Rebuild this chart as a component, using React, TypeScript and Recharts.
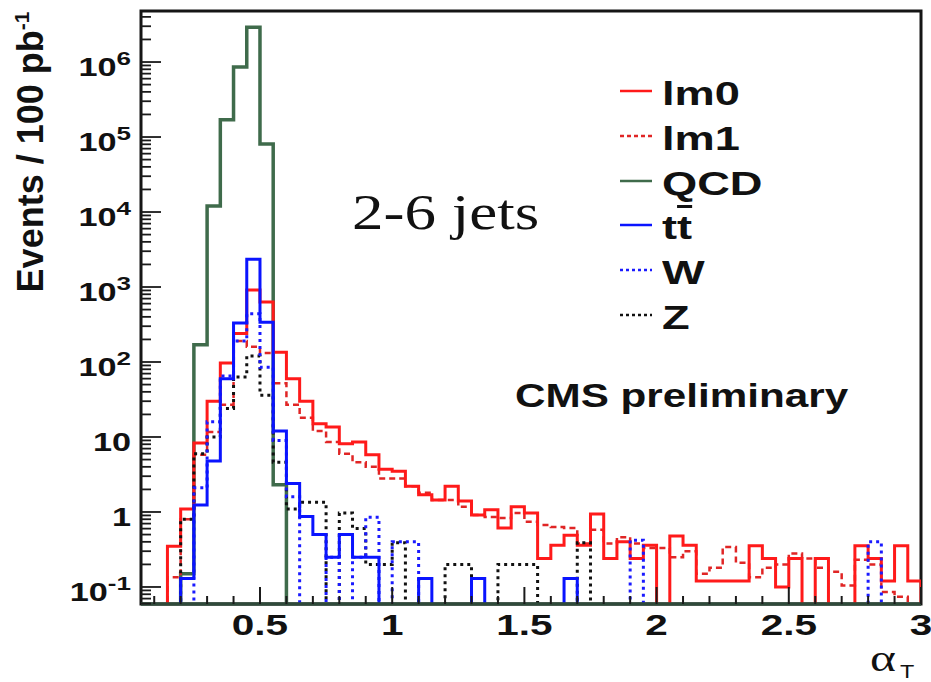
import React from "react";
import { ComposedChart, Line, XAxis, YAxis, Legend, ReferenceArea, ReferenceLine, Customized } from "recharts";

const FONT = "'Liberation Sans', Arial, Helvetica, sans-serif";
const SERIF = "'Liberation Serif', 'Times New Roman', serif";

// axis ranges
const X_MIN = 0.05;
const X_MAX = 3.0;
const Y_MIN = 0.0593;
const Y_MAX = 4.79e6;
const BIN_WIDTH = 0.05;
const FLOOR = 1e-4; // empty bins are drawn down past the bottom of the frame

// lower edge of each alpha_T bin
const binLow = [
  0.15, 0.2, 0.25, 0.3, 0.35, 0.4, 0.45, 0.5, 0.55, 0.6,
  0.65, 0.7, 0.75, 0.8, 0.85, 0.9, 0.95, 1.0, 1.05, 1.1,
  1.15, 1.2, 1.25, 1.3, 1.35, 1.4, 1.45, 1.5, 1.55, 1.6,
  1.65, 1.7, 1.75, 1.8, 1.85, 1.9, 1.95, 2.0, 2.05, 2.1,
  2.15, 2.2, 2.25, 2.3, 2.35, 2.4, 2.45, 2.5, 2.55, 2.6,
  2.65, 2.7, 2.75, 2.8, 2.85, 2.9, 2.95,
];

const lm0 = [
  0.35, 1.1, 8.3, 30, 97, 240, 910, 630, 135, 60,
  30, 15, 13.6, 8.1, 8.6, 5.8, 3.7, 3.5, 2.2, 1.7,
  1.45, 2.2, 1.4, 0.91, 1.07, 0.61, 1.17, 0.97, 0.24, 0.36,
  0.49, 0.36, 0.94, 0.24, 0.4, 0.24, 0.36, 0, 0.48, 0.36,
  0.12, 0.12, 0.12, 0.12, 0.355, 0.24, 0.1, 0.24, 0, 0.24,
  0, 0, 0.355, 0.24, 0.12, 0.355, 0.12,
];

const lm1 = [
  0.135, 0.8, 5.8, 11.7, 27, 190, 160, 132, 52, 27,
  18, 12, 8.6, 6, 4.6, 4, 2.8, 2.8, 2.2, 1.8,
  1.45, 1.45, 1.17, 0.91, 0.86, 0.83, 0.97, 0.74, 0.67, 0.63,
  0.61, 0.38, 0.58, 0.38, 0.46, 0.38, 0.33, 0.33, 0.25, 0.3,
  0.15, 0.18, 0.34, 0.21, 0.135, 0.18, 0.2, 0.28, 0.24, 0.18,
  0.16, 0.105, 0.23, 0.2, 0.086, 0.074, 0,
];

const qcd = [
  0, 0.15, 170, 12000, 170000, 860000, 2900000, 81000, 2.3, 0,
  0, 0, 0, 0, 0, 0, 0, 0, 0, 0,
  0, 0, 0, 0, 0, 0, 0, 0, 0, 0,
  0, 0, 0, 0, 0, 0, 0, 0, 0, 0,
  0, 0, 0, 0, 0, 0, 0, 0, 0, 0,
  0, 0, 0, 0, 0, 0, 0,
];

const ttbar = [
  0, 0.13, 1.24, 4.8, 60, 330, 2350, 340, 12, 2.4,
  0.87, 0.5, 0.25, 0.5, 0.25, 0.25, 0, 0, 0, 0.13,
  0, 0, 0, 0.13, 0, 0, 0, 0, 0, 0,
  0.13, 0, 0, 0, 0, 0, 0, 0, 0, 0,
  0, 0, 0, 0, 0, 0, 0, 0, 0, 0,
  0, 0, 0, 0, 0, 0, 0,
];

const wjets = [
  0, 0, 2.1, 16, 65, 190, 440, 85, 9, 1.6,
  0, 0, 0.25, 0, 0.25, 0.85, 0, 0.4, 0.4, 0,
  0, 0, 0, 0, 0, 0, 0, 0, 0, 0,
  0, 0, 0, 0, 0, 0.42, 0, 0, 0, 0,
  0, 0, 0, 0, 0, 0, 0, 0, 0, 0,
  0, 0, 0, 0.4, 0, 0, 0,
];

const zjets = [
  0, 0.8, 6, 10, 24, 63, 120, 36, 4.6, 1.1,
  1.35, 1.35, 0, 0.97, 0.6, 0.2, 0.2, 0.39, 0, 0,
  0, 0.2, 0.2, 0, 0, 0.2, 0.2, 0.2, 0, 0,
  0, 0.39, 0, 0, 0, 0, 0, 0, 0, 0,
  0, 0, 0, 0, 0, 0, 0, 0, 0, 0,
  0, 0, 0, 0, 0, 0, 0,
];

// axis ticks
const xMajorTicks = [0.5, 1, 1.5, 2, 2.5, 3];
const xTickLabels = ["0.5", "1", "1.5", "2", "2.5", "3"];
const yMajorTicks = [0.1, 1, 10, 100, 1e3, 1e4, 1e5, 1e6];
const yTickBase = ["10", "1", "10", "10", "10", "10", "10", "10"];
const yTickExp = ["-1", "", "", "2", "3", "4", "5", "6"];

const xTicks: number[] = [];
for (let i = 1; i <= 30; i++) xTicks.push(i / 10);

const yTicks: number[] = [];
[0.01, ...yMajorTicks].forEach(d => {
  for (let k = 1; k <= 9; k++) {
    const v = d * k;
    if (v >= Y_MIN && v <= Y_MAX) yTicks.push(v);
  }
});

function toSteps(values: number[]) {
  const last = binLow.length - 1;
  const end = binLow[last] + BIN_WIDTH;
  const pts = [{ x: binLow[0], y: FLOOR }];
  values.forEach((v, i) => pts.push({ x: binLow[i], y: v > 0 ? v : FLOOR }));
  pts.push({ x: end, y: values[last] > 0 ? values[last] : FLOOR });
  pts.push({ x: end, y: FLOOR });
  return pts;
}

const series = [
  { key: "qcd", label: "QCD", values: qcd, color: "#3f6b4b", width: 3.5, dash: undefined, legendDash: undefined },
  { key: "lm1", label: "lm1", values: lm1, color: "#e02525", width: 2.5, dash: "6 4", legendDash: "4 3" },
  { key: "lm0", label: "lm0", values: lm0, color: "#ff1a1a", width: 3, dash: undefined, legendDash: undefined },
  { key: "z", label: "Z", values: zjets, color: "#111111", width: 3, dash: "3 4", legendDash: "3 3" },
  { key: "w", label: "W", values: wjets, color: "#1a1aff", width: 3, dash: "3 4", legendDash: "3 3" },
  { key: "tt", label: "tt", values: ttbar, color: "#0a14ff", width: 3, dash: undefined, legendDash: undefined },
];
const legendOrder = ["lm0", "lm1", "qcd", "tt", "w", "z"];

const XTick = (props: any) => {
  const { x, y, payload } = props;
  const idx = xMajorTicks.findIndex(t => Math.abs(t - payload.value) < 1e-6);
  const major = idx >= 0;
  return (
    <g>
      <line x1={x} x2={x} y1={y} y2={y - (major ? 17 : 8)} stroke="#1a1a1a" strokeWidth={2} />
      {major && (
        <text transform={`translate(${x},${y + 31}) scale(1.35,1)`} textAnchor="middle"
          fontFamily={FONT} fontWeight="bold" fontSize={30} fill="#111">
          {xTickLabels[idx]}
        </text>
      )}
    </g>
  );
};

const YTick = (props: any) => {
  const { x, y, payload } = props;
  const idx = yMajorTicks.findIndex(t => Math.abs(Math.log10(t) - Math.log10(payload.value)) < 1e-6);
  const major = idx >= 0;
  return (
    <g>
      <line x1={x} x2={x + (major ? 20 : 10)} y1={y} y2={y} stroke="#1a1a1a" strokeWidth={1.8} />
      {major && (
        <text transform={`translate(${x - 10},${y + 14}) scale(1.37,1)`} textAnchor="end"
          fontFamily={FONT} fontWeight="bold" fontSize={25} fill="#111">
          {yTickBase[idx]}
          {yTickExp[idx] && <tspan fontSize={19} dy={-11}>{yTickExp[idx]}</tspan>}
        </text>
      )}
    </g>
  );
};

const renderLegend = () => (
  <div style={{ fontFamily: FONT, fontWeight: 700, color: "#111" }}>
    {legendOrder.map(k => {
      const s = series.find(d => d.key === k)!;
      return (
        <div key={k} style={{ height: 44.8, display: "flex", alignItems: "flex-start" }}>
          <svg width={34} height={44.8} style={{ display: "block", flex: "none" }}>
            <line x1={0} x2={32} y1={20} y2={20} stroke={s.color} strokeWidth={2.5} strokeDasharray={s.legendDash} />
          </svg>
          <span style={{ marginLeft: 8, fontSize: 34, lineHeight: "44.8px", display: "inline-block", transform: "scaleX(1.33)", transformOrigin: "left center", whiteSpace: "nowrap" }}>
            {k === "tt" ? <>t<span style={{ textDecoration: "overline" }}>t</span></> : s.label}
          </span>
        </div>
      );
    })}
  </div>
);

const Annotations = () => (
  <g>
    <text transform="translate(43,152) rotate(-90)" textAnchor="middle" fontFamily={FONT} fontWeight="bold" fontSize={36} fill="#111">
      Events / 100 pb<tspan fontSize={21} dy={-14}>-1</tspan>
    </text>
    <text transform="translate(352,229) scale(1.26,1)" fontFamily={SERIF} fontSize={50} fill="#111">2-6 jets</text>
    <text transform="translate(515,407) scale(1.28,1)" fontFamily={FONT} fontWeight="bold" fontSize={33} fill="#111">CMS preliminary</text>
    <text transform="translate(870,671) scale(1.3,1)" fontFamily={SERIF} fontSize={38} fill="#111">α</text>
    <text transform="translate(900,678) scale(1.3,1)" fontFamily={FONT} fontSize={18} fill="#111">T</text>
  </g>
);

export default function App() {
  return (
    <div style={{ position: "absolute", left: 0, top: 0, width: 931, height: 682, background: "#fff" }}>
      <ComposedChart width={931} height={682} margin={{ top: 11, right: 10, bottom: 0, left: 41 }}>
        <XAxis type="number" dataKey="x" domain={[X_MIN, X_MAX]} allowDataOverflow ticks={xTicks} interval={0}
          tick={<XTick />} tickSize={0} tickMargin={0} axisLine={false} tickLine={false} height={78} />
        <YAxis type="number" dataKey="y" scale="log" domain={[Y_MIN, Y_MAX]} allowDataOverflow ticks={yTicks} interval={0}
          tick={<YTick />} tickSize={0} tickMargin={0} axisLine={false} tickLine={false} width={100} />
        {series.map(s => (
          <Line key={s.key} data={toSteps(s.values)} dataKey="y" name={s.label} type="stepAfter"
            stroke={s.color} strokeWidth={s.width} strokeDasharray={s.dash} strokeLinejoin="miter"
            dot={false} activeDot={false} isAnimationActive={false} />
        ))}
        <ReferenceArea x1={X_MIN} x2={X_MAX} y1={Y_MIN} y2={Y_MAX} fill="none" fillOpacity={0}
          stroke="#151515" strokeWidth={3} ifOverflow="visible" />
        <ReferenceLine y={Y_MIN} stroke="#2f4a3a" strokeWidth={3.5} ifOverflow="visible" />
        <Legend layout="horizontal" verticalAlign="middle" align="center" content={renderLegend}
          wrapperStyle={{ position: "absolute", left: 620, top: 71, width: 220, height: 270 }} />
        <Customized component={Annotations} />
      </ComposedChart>
    </div>
  );
}
